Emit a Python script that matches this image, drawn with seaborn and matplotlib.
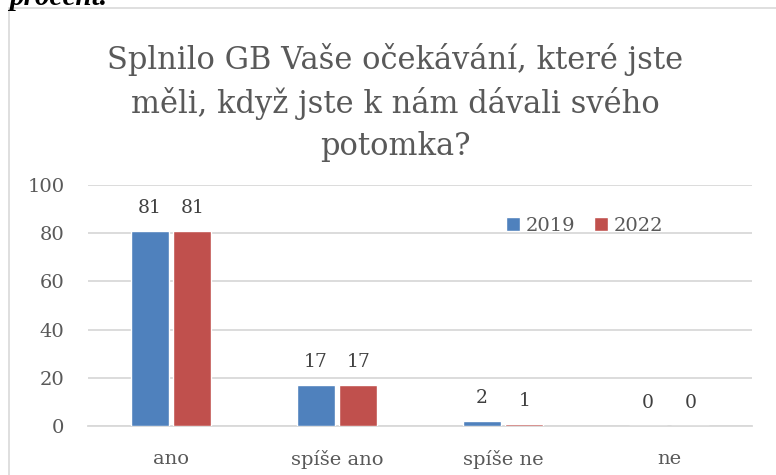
import matplotlib
matplotlib.use("Agg")
import matplotlib.pyplot as plt
import numpy as np
import pandas as pd
import seaborn as sns
from matplotlib.patches import Rectangle

categories = ["ano", "spíše ano", "spíše ne", "ne"]
years = ["2019", "2022"]
values_2019 = [81, 17, 2, 0]
values_2022 = [81, 17, 1, 0]
y_ticks = [0, 20, 40, 60, 80, 100]
title = "Splnilo GB Vaše očekávání, které jste\nměli, když jste k nám dávali svého\npotomka?"

df = pd.DataFrame({
    "kategorie": categories * 2,
    "rok": [years[0]] * 4 + [years[1]] * 4,
    "hodnota": values_2019 + values_2022,
})

sns.set_style("white")
plt.rcParams["font.family"] = ["DejaVu Serif"]

fig = plt.figure(figsize=(7.76, 4.75), dpi=100)
ax = fig.add_axes([0.1134, 0.1032, 0.8557, 0.5074])

sns.barplot(data=df, x="kategorie", y="hodnota", hue="rok",
            palette=["#4F81BD", "#C0504D"], width=0.512, gap=0.1,
            saturation=1, ax=ax, zorder=3)

for c in ax.containers:
    ax.bar_label(c, labels=[str(int(v)) for v in c.datavalues], padding=10,
                 fontsize=13.5, color="#404040")

ax.set_ylim(0, 100)
ax.set_xlim(-0.5, 3.5)
ax.set_yticks(y_ticks)
ax.yaxis.grid(True, color="#D9D9D9", linewidth=1.3, zorder=0)
ax.set_axisbelow(True)
for s in ["top", "right", "left"]:
    ax.spines[s].set_visible(False)
ax.spines["bottom"].set_color("#D9D9D9")
ax.spines["bottom"].set_linewidth(1.3)
ax.tick_params(axis="both", length=0, labelsize=14, labelcolor="#595959")
ax.tick_params(axis="y", pad=17)
ax.tick_params(axis="x", pad=17)
ax.set_xlabel("")
ax.set_ylabel("")

ax.legend(loc="center", bbox_to_anchor=(0.748, 0.83), ncol=2, frameon=False,
          fontsize=14, handlelength=0.7, handleheight=0.7, handletextpad=0.3,
          columnspacing=1.0, labelcolor="#595959")

fig.text(0.509, 0.91, title, ha="center", va="top", fontsize=22,
         color="#595959", linespacing=1.45)

fig.text(0.012, 1 - 5 / 475, "procent.", ha="left", va="baseline", fontsize=21,
         style="italic", weight="bold", color="black",
         family="Liberation Serif")

fig.patches.append(Rectangle((9 / 776, -0.05), 1.0, 0.05 + 1 - 8 / 475,
                             transform=fig.transFigure, fill=False,
                             edgecolor="#D9D9D9", linewidth=1.2))

fig.savefig("out.png", dpi=100)
